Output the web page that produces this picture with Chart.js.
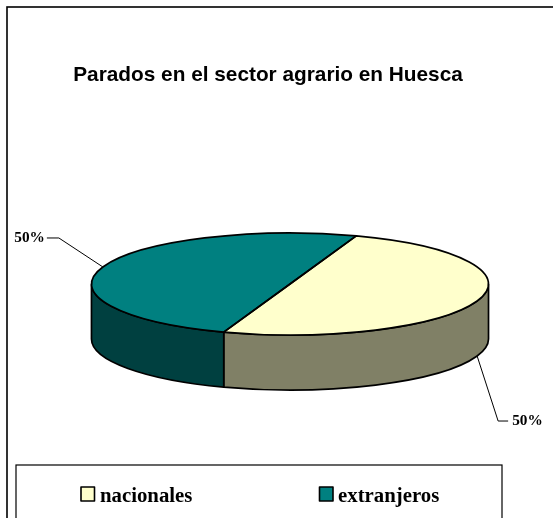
<!DOCTYPE html>
<html>
<head>
<meta charset="utf-8">
<script src="https://cdn.jsdelivr.net/npm/chart.js@4/dist/chart.umd.js"></script>
<style>
    body { margin: 0; background: #fff; }
    canvas { display: block; }
</style>
</head>
<body>
<canvas id="chart-canvas" width="553" height="518"></canvas>
<script>
const chart_title = 'Parados en el sector agrario en Huesca';
const categories = ['nacionales', 'extranjeros'];
const percent_values = [50, 50];
const slice_colors = ['#FFFFCC', '#008080'];
const wall_colors = ['#808066', '#004040'];

// the pie is laid out flat by Chart.js, then squashed around this point
const pie_center = { x: 290, y: 284 };
const tilt = 0.257;
const depth = 55;
const edge_width = 1.7;

// leader line and label placement, relative to the middle of each slice
const leaders = [
    { elbow: [21, 65], end: [31, 65], text: [35, 65], align: 'left' },
    { elbow: [-44, -29], end: [-56, -29], text: [-58, -29], align: 'right' },
];
const swatch_x = [81, 319.5];
const label_x = [100, 338];

function ellipse_path(ctx, arc, start, end, yShift, ccw) {
    ctx.ellipse(pie_center.x, pie_center.y + yShift, arc.outerRadius, arc.outerRadius * tilt, 0, start, end, ccw);
}

const pie3d = {
    id: 'pie3d',
    beforeDraw(chart) {
        // chart frame and legend box run off the edge of the picture
        const ctx = chart.ctx;
        ctx.save();
        ctx.strokeStyle = '#000';
        ctx.lineWidth = 1.6;
        ctx.strokeRect(7, 7, 600, 600);
        ctx.lineWidth = 1.2;
        ctx.strokeRect(16, 465, 486, 100);
        ctx.restore();
    },
    beforeDatasetsDraw(chart) {
        const ctx = chart.ctx;
        const arcs = chart.getDatasetMeta(0).data;
        const TAU = Math.PI * 2;
        ctx.save();
        ctx.lineWidth = edge_width;
        ctx.strokeStyle = '#000';
        ctx.lineJoin = 'round';
        arcs.forEach(function(arc, i) {
            // only the part of the rim between 0 and PI faces the viewer
            let start = arc.startAngle % TAU;
            if (start < 0) start += TAU;
            let end = start + (arc.endAngle - arc.startAngle);
            [[start, end], [start - TAU, end - TAU]].forEach(function(range) {
                const a = Math.max(range[0], 0);
                const b = Math.min(range[1], Math.PI);
                if (b <= a) return;
                ctx.beginPath();
                ellipse_path(ctx, arc, a, b, 0, false);
                ellipse_path(ctx, arc, b, a, depth, true);
                ctx.closePath();
                ctx.fillStyle = wall_colors[i];
                ctx.fill();
                ctx.stroke();
            });
        });
        ctx.restore();

        const first = arcs[0];
        ctx.save();
        ctx.translate(pie_center.x, pie_center.y);
        ctx.scale(1, tilt);
        ctx.translate(-first.x, -first.y);
    },
    afterDatasetsDraw(chart) {
        const ctx = chart.ctx;
        const arcs = chart.getDatasetMeta(0).data;
        ctx.restore();

        ctx.save();
        ctx.strokeStyle = '#000';
        ctx.lineWidth = edge_width;
        ctx.lineJoin = 'round';
        arcs.forEach(function(arc) {
            ctx.beginPath();
            ctx.moveTo(pie_center.x, pie_center.y);
            ellipse_path(ctx, arc, arc.startAngle, arc.endAngle, 0, false);
            ctx.closePath();
            ctx.stroke();
        });

        // leader lines and percent labels
        const total = percent_values.reduce((a, b) => a + b, 0);
        ctx.font = 'bold 15.3px "Liberation Serif"';
        ctx.textBaseline = 'middle';
        arcs.forEach(function(arc, i) {
            const mid = (arc.startAngle + arc.endAngle) / 2;
            const facing = Math.sin(mid) > 0;
            const x = pie_center.x + Math.cos(mid) * arc.outerRadius;
            const y = pie_center.y + Math.sin(mid) * arc.outerRadius * tilt + (facing ? depth : 0);
            const l = leaders[i];
            ctx.beginPath();
            ctx.lineWidth = 1;
            ctx.moveTo(x, y);
            ctx.lineTo(x + l.elbow[0], y + l.elbow[1]);
            ctx.lineTo(x + l.end[0], y + l.end[1]);
            ctx.stroke();
            ctx.fillStyle = '#000';
            ctx.textAlign = l.align;
            ctx.fillText(Math.round(percent_values[i] / total * 100) + '%', x + l.text[0], y + l.text[1]);
        });

        // legend
        ctx.font = 'bold 20.8px "Liberation Serif"';
        ctx.textAlign = 'left';
        ctx.textBaseline = 'alphabetic';
        categories.forEach(function(name, i) {
            ctx.fillStyle = slice_colors[i];
            ctx.lineWidth = 1.6;
            ctx.fillRect(swatch_x[i], 487, 13.5, 14);
            ctx.strokeRect(swatch_x[i], 487, 13.5, 14);
            ctx.fillStyle = '#000';
            ctx.fillText(name, label_x[i], 502);
        });
        ctx.restore();
    }
};

document.addEventListener('DOMContentLoaded', function() {
    var ctx = document.getElementById('chart-canvas');
    new Chart(ctx, {
        type: 'pie',
        data: {
            labels: categories,
            datasets: [
                {
                    data: percent_values,
                    backgroundColor: slice_colors,
                    borderWidth: 0
                }
            ]
        },
        options: {
            responsive: false,
            animation: false,
            events: [],
            rotation: 19.5,
            layout: {
                padding: { right: 17, bottom: 33.5 }
            },
            plugins: {
                legend: { display: false },
                tooltip: { enabled: false },
                title: {
                    display: true,
                    text: chart_title,
                    color: '#000',
                    font: { family: '"Liberation Sans"', size: 20.8, weight: 'bold', lineHeight: 1.2 },
                    padding: { top: 62.5, bottom: 0 }
                }
            }
        },
        plugins: [pie3d]
    });
});
</script>
</body>
</html>
